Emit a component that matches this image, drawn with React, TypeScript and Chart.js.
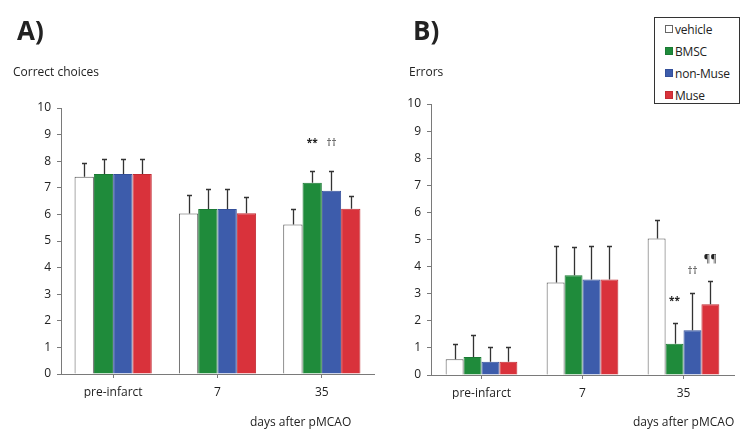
import React, { useEffect, useRef } from "react";
import { Chart, registerables } from "chart.js";
Chart.register(...registerables);

// ---------- data ----------
const categories = ["pre-infarct", "7", "35"];
const seriesNames = ["vehicle", "BMSC", "non-Muse", "Muse"];

// A) Correct choices (mean)
const correctVehicle = [7.42, 6.03, 5.62];
const correctBMSC = [7.52, 6.2, 7.19];
const correctNonMuse = [7.52, 6.2, 6.89];
const correctMuse = [7.52, 6.04, 6.21];
// A) error bar (SD, upward)
const correctVehicleSD = [0.53, 0.71, 0.57];
const correctBMSCSD = [0.55, 0.75, 0.43];
const correctNonMuseSD = [0.55, 0.75, 0.73];
const correctMuseSD = [0.55, 0.61, 0.47];

// B) Errors (mean)
const errorsVehicle = [0.58, 3.41, 5.04];
const errorsBMSC = [0.66, 3.68, 1.15];
const errorsNonMuse = [0.49, 3.52, 1.65];
const errorsMuse = [0.49, 3.52, 2.61];
// B) error bar (SD, upward)
const errorsVehicleSD = [0.55, 1.34, 0.69];
const errorsBMSCSD = [0.83, 1.05, 0.78];
const errorsNonMuseSD = [0.56, 1.23, 1.38];
const errorsMuseSD = [0.56, 1.23, 0.87];

// significance marks: [seriesIndex, categoryIndex, text]
const correctMarks: [number, number, string][] = [
  [1, 2, "**"],
  [2, 2, "††"],
];
const errorsMarks: [number, number, string][] = [
  [1, 2, "**"],
  [2, 2, "††"],
  [3, 2, "¶¶"],
];

const yTicksMin = 0;
const yTicksMax = 10;

// ---------- style ----------
const FONT = "'Open Sans', 'DejaVu Sans', sans-serif";
const fills = ["#ffffff", "#1f8b3b", "#3d5cab", "#d9323b"];
const borders = ["#555555", "#1b7a34", "#34509a", "#c22b33"];
const TEXT = "#222222";
const AXIS = "#7a7a7a";

const errorBarPlugin = {
  id: "errbars",
  afterDatasetsDraw(chart: any, _args: any, opts: any) {
    const ctx = chart.ctx;
    const y = chart.scales.y;
    ctx.save();
    ctx.strokeStyle = "#333";
    ctx.lineWidth = 1.3;
    chart.data.datasets.forEach((ds: any, di: number) => {
      const meta = chart.getDatasetMeta(di);
      const sd = opts.sd[di];
      meta.data.forEach((bar: any, i: number) => {
        const x = Math.round(bar.x) + 0.5;
        const yb = y.getPixelForValue(ds.data[i]);
        const yt = Math.round(y.getPixelForValue(ds.data[i] + sd[i])) + 0.5;
        ctx.beginPath();
        ctx.moveTo(x, yb);
        ctx.lineTo(x, yt);
        ctx.moveTo(x - 2.5, yt);
        ctx.lineTo(x + 2.5, yt);
        ctx.stroke();
      });
    });
    ctx.fillStyle = "#222";
    ctx.textAlign = "center";
    ctx.textBaseline = "middle";
    (opts.marks || []).forEach((m: [number, number, string]) => {
      const [si, ci, text] = m;
      ctx.font = text === "**" ? `bold 10px ${FONT}` : `10px ${FONT}`;
      const meta = chart.getDatasetMeta(si);
      const bar: any = meta.data[ci];
      const v = chart.data.datasets[si].data[ci] + opts.sd[si][ci];
      const yy = y.getPixelForValue(v) - opts.markOffset;
      ctx.fillText(text, bar.x, yy);
    });
    ctx.restore();
  },
};

function makeConfig(
  values: number[][],
  sds: number[][],
  marks: [number, number, string][],
  area: { left: number; right: number; top: number; bottom: number },
  catPct: number,
  markOffset: number
) {
  const W = 741;
  const H = 430;
  const yWidth = 61;
  const xHeight = 24;
  return {
    type: "bar" as const,
    data: {
      labels: categories,
      datasets: values.map((vals, i) => ({
        label: seriesNames[i],
        data: vals,
        backgroundColor: fills[i],
        borderColor: borders[i],
        borderWidth: 1,
        barPercentage: 1,
        categoryPercentage: catPct,
      })),
    },
    options: {
      responsive: false,
      animation: false,
      events: [],
      layout: {
        padding: {
          left: area.left - yWidth,
          right: W - area.right,
          top: area.top,
          bottom: H - area.bottom - xHeight,
        },
      },
      plugins: {
        legend: { display: false },
        tooltip: { enabled: false },
        errbars: { sd: sds, marks, markOffset },
      },
      scales: {
        x: {
          type: "category",
          grid: {
            display: true,
            drawOnChartArea: false,
            drawTicks: true,
            tickLength: 4,
            offset: false,
            color: AXIS,
          },
          border: { display: true, color: AXIS, width: 1 },
          ticks: {
            color: TEXT,
            font: { family: FONT, size: 12 },
            padding: 7,
            maxRotation: 0,
          },
          afterFit: (s: any) => {
            s.height = xHeight;
          },
        },
        y: {
          min: yTicksMin,
          max: yTicksMax,
          grid: {
            display: true,
            drawOnChartArea: false,
            drawTicks: true,
            tickLength: 4,
            color: AXIS,
          },
          border: { display: true, color: AXIS, width: 1 },
          ticks: {
            stepSize: 1,
            color: TEXT,
            font: { family: FONT, size: 12 },
            padding: 6,
          },
          afterFit: (s: any) => {
            s.width = yWidth;
          },
        },
      },
    },
    plugins: [errorBarPlugin],
  };
}

function Text(props: {
  x: number;
  y: number;
  size: number;
  bold?: boolean;
  children: React.ReactNode;
}) {
  return (
    <div
      style={{
        position: "absolute",
        left: props.x,
        top: props.y - props.size / 2,
        height: props.size,
        lineHeight: `${props.size}px`,
        fontSize: props.size,
        fontFamily: FONT,
        fontWeight: props.bold ? 700 : 400,
        color: TEXT,
        whiteSpace: "nowrap",
      }}
    >
      {props.children}
    </div>
  );
}

export default function App() {
  const refA = useRef<HTMLCanvasElement>(null);
  const refB = useRef<HTMLCanvasElement>(null);

  useEffect(() => {
    const a = new Chart(
      refA.current as HTMLCanvasElement,
      makeConfig(
        [correctVehicle, correctBMSC, correctNonMuse, correctMuse],
        [correctVehicleSD, correctBMSCSD, correctNonMuseSD, correctMuseSD],
        correctMarks,
        { left: 61, right: 374, top: 108, bottom: 374 },
        0.74,
        28
      ) as any
    );
    const b = new Chart(
      refB.current as HTMLCanvasElement,
      makeConfig(
        [errorsVehicle, errorsBMSC, errorsNonMuse, errorsMuse],
        [errorsVehicleSD, errorsBMSCSD, errorsNonMuseSD, errorsMuseSD],
        errorsMarks,
        { left: 431, right: 734, top: 104, bottom: 375 },
        0.71,
        22
      ) as any
    );
    return () => {
      a.destroy();
      b.destroy();
    };
  }, []);

  const legendItems = seriesNames.map((n, i) => (
    <div
      key={n}
      style={{
        position: "absolute",
        left: 10,
        top: 3 + i * 22,
        height: 16,
        display: "flex",
        alignItems: "center",
        fontFamily: FONT,
        fontSize: 12,
        letterSpacing: -0.2,
        color: TEXT,
        whiteSpace: "nowrap",
      }}
    >
      <span
        style={{
          display: "inline-block",
          width: 8,
          height: 8,
          background: fills[i],
          border: i === 0 ? "1px solid #666" : `1px solid ${borders[i]}`,
          marginRight: 2,
          boxSizing: "border-box",
        }}
      />
      {n}
    </div>
  ));

  return (
    <div
      style={{
        position: "fixed",
        left: 0,
        top: 0,
        width: 741,
        height: 430,
        background: "#ffffff",
        overflow: "hidden",
      }}
    >
      <canvas
        ref={refA}
        width={741}
        height={430}
        style={{ position: "absolute", left: 0, top: 0 }}
      />
      <canvas
        ref={refB}
        width={741}
        height={430}
        style={{ position: "absolute", left: 0, top: 0 }}
      />
      <Text x={17} y={30} size={26} bold>
        A)
      </Text>
      <Text x={413} y={30} size={26} bold>
        B)
      </Text>
      <Text x={13} y={72} size={12}>
        Correct choices
      </Text>
      <Text x={409} y={72} size={12}>
        Errors
      </Text>
      <Text x={250} y={422} size={12}>
        days after pMCAO
      </Text>
      <Text x={633} y={422} size={12}>
        days after pMCAO
      </Text>
      <div
        style={{
          position: "absolute",
          left: 654,
          top: 17,
          width: 86,
          height: 87,
          border: "1px solid #333",
          boxSizing: "border-box",
          background: "#fff",
        }}
      >
        {legendItems}
      </div>
    </div>
  );
}
